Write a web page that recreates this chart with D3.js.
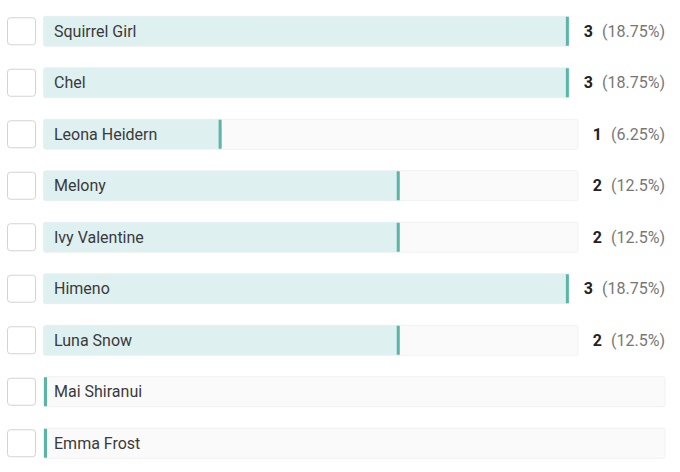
<!DOCTYPE html>
<html>
<head>
<meta charset="utf-8">
<script src="https://cdn.jsdelivr.net/npm/d3@7"></script>
<style>
  html, body { margin: 0; padding: 0; background: #fff; }
  svg { display: block; font-family: Roboto, "Noto Sans", sans-serif; }
</style>
</head>
<body>
<svg id="chart" width="680" height="472"></svg>
<script>
const categories = ["Squirrel Girl", "Chel", "Leona Heidern", "Melony", "Ivy Valentine", "Himeno", "Luna Snow", "Mai Shiranui", "Emma Frost"];
const counts = [3, 3, 1, 2, 2, 3, 2, null, null];
const percentLabels = ["(18.75%)", "(18.75%)", "(6.25%)", "(12.5%)", "(12.5%)", "(18.75%)", "(12.5%)", null, null];

const svg = d3.select("#chart");
const trackX = 43.5;
const rightEdge = 665;
const barH = 30;

const y = d3.scaleBand()
  .domain(categories)
  .range([5.5, 5.5 + 51.5 * categories.length])
  .paddingInner(0)
  .paddingOuter(0);

const maxVal = d3.max(counts);

const rows = svg.selectAll("g.row")
  .data(categories.map((c, i) => ({ name: c, value: counts[i], pct: percentLabels[i] })))
  .join("g")
  .attr("class", "row")
  .attr("transform", d => `translate(0,${y(d.name) + (y.bandwidth() - barH) / 2})`);

// checkbox
rows.append("rect")
  .attr("x", 7.5).attr("y", 1.5)
  .attr("width", 28).attr("height", 27)
  .attr("rx", 3)
  .attr("fill", "#fff")
  .attr("stroke", "#d3d3d3")
  .attr("stroke-width", 1);

rows.each(function(d) {
  const g = d3.select(this);
  if (d.value != null) {
    const t = g.append("text")
      .attr("x", rightEdge)
      .attr("y", barH / 2)
      .attr("dy", "0.35em")
      .attr("text-anchor", "end")
      .attr("font-size", 16);
    t.append("tspan").attr("font-weight", "bold").attr("fill", "#222").text(d.value);
    t.append("tspan").attr("fill", "#777").attr("dx", 9).text(d.pct);
    const bb = t.node().getBBox();
    d.trackEnd = bb.x - 15;
  } else {
    d.trackEnd = rightEdge;
  }
  const trackW = d.trackEnd - trackX;
  const x = d3.scaleLinear().domain([0, maxVal]).range([0, trackW]);
  const w = d.value == null ? 0 : x(d.value);

  g.insert("rect", "text")
    .attr("x", trackX).attr("y", 0)
    .attr("width", trackW).attr("height", barH)
    .attr("rx", 2)
    .attr("fill", "#fafafa")
    .attr("stroke", "#f1f1f1")
    .attr("stroke-width", 1);

  if (w > 0) {
    g.insert("rect", "text")
      .attr("x", trackX).attr("y", 0)
      .attr("width", w).attr("height", barH)
      .attr("rx", 2)
      .attr("fill", "#dff0f1");
  }
  const mw = 3;
  g.insert("rect", "text")
    .attr("x", trackX + Math.max(w, mw) - mw + (w > 0 ? 0 : 0.5))
    .attr("y", 0.5)
    .attr("width", mw).attr("height", barH - 1)
    .attr("fill", "#5ab5a7");

  g.append("text")
    .attr("x", 54)
    .attr("y", barH / 2)
    .attr("dy", "0.35em")
    .attr("font-size", 16)
    .attr("fill", "#3a3a3a")
    .text(d.name);
});
</script>
</body>
</html>
